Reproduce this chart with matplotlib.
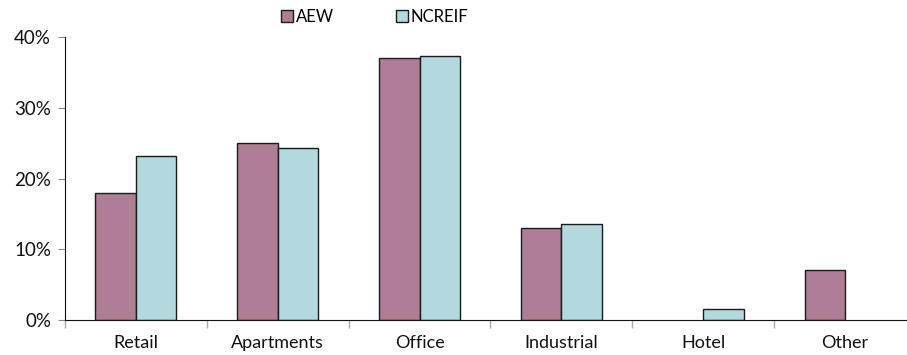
import numpy as np
import matplotlib
matplotlib.use("Agg")
import matplotlib.pyplot as plt
from matplotlib.ticker import FixedLocator, PercentFormatter

categories = ["Retail", "Apartments", "Office", "Industrial", "Hotel", "Other"]
aew = [18.0, 25.0, 37.0, 13.0, 0.0, 7.0]
ncreif = [23.2, 24.3, 37.3, 13.5, 1.6, 0.0]
y_ticks = [0, 10, 20, 30, 40]

plt.rcParams["font.family"] = ["Lato", "DejaVu Sans"]

fig = plt.figure(figsize=(9.07, 3.55), dpi=100)
ax = fig.add_axes([65 / 907, 35 / 355, 851 / 907, 283 / 355])

x = np.arange(len(categories))
w = 0.285
b1 = ax.bar(x - w / 2, aew, w, color="#ad7e95", edgecolor="#1a1a1a", lw=1.0, label="AEW")
b2 = ax.bar(x + w / 2, ncreif, w, color="#b3d8dd", edgecolor="#1a1a1a", lw=1.0, label="NCREIF")
# empty categories: no outline on the baseline
for bars in (b1, b2):
    for p in bars:
        if p.get_height() == 0:
            p.set_visible(False)

ax.set_xlim(-0.5, len(categories) - 0.5)
ax.set_ylim(0, 40)
ax.set_yticks(y_ticks)
ax.yaxis.set_major_formatter(PercentFormatter(decimals=0))
ax.set_xticks(x)
ax.set_xticklabels(categories)
ax.xaxis.set_minor_locator(FixedLocator(x - 0.5))
ax.tick_params(axis="x", which="major", length=0, pad=11, labelsize=13, colors="#111111")
ax.tick_params(axis="x", which="minor", length=6, color="#aaaaaa", width=1)
ax.tick_params(axis="y", length=5, width=0.8, color="#888888", labelsize=13.5,
               labelcolor="#111111", pad=5)
for s in ("top", "right"):
    ax.spines[s].set_visible(False)
ax.spines["left"].set_color("#111111")
ax.spines["bottom"].set_color("#111111")

ax.legend(loc="upper left", bbox_to_anchor=(272 / 907, 1.0), bbox_transform=fig.transFigure,
          ncol=2, frameon=False, fontsize=12, handlelength=0.7, handleheight=0.7,
          handletextpad=0.2, columnspacing=3.7, borderaxespad=0.15)

fig.savefig("out.png", dpi=100)
